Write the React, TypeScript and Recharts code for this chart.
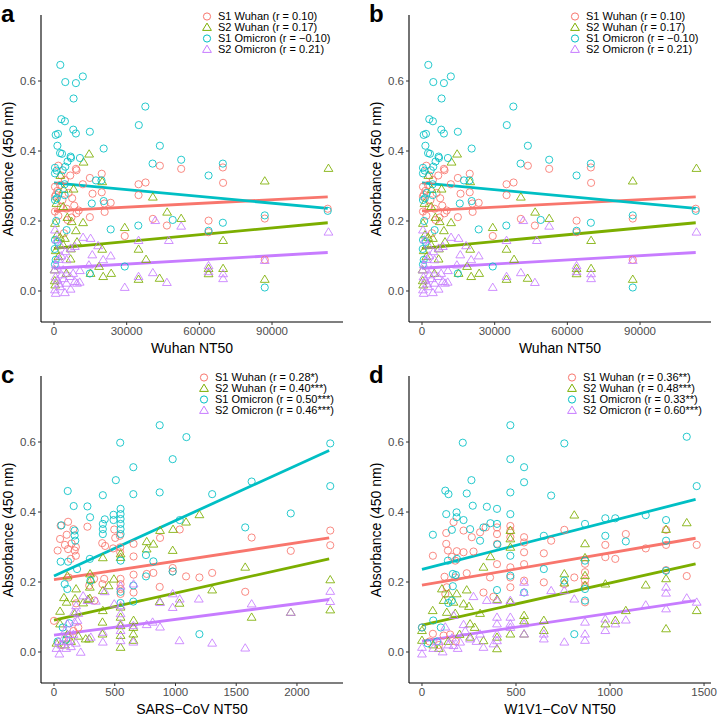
import React from 'react';
import { ScatterChart, Scatter, XAxis, YAxis, ReferenceLine } from 'recharts';

type Pt = [number, number];

const seriesNames = ['S1 Wuhan', 'S2 Wuhan', 'S1 Omicron', 'S2 Omicron'];
const seriesColors = ['#F8766D', '#7CAE00', '#00BFC4', '#C77CFF'];
const seriesShapes = ['circle', 'triangle', 'circle', 'triangle'];

const absDomain = [-0.0886, 0.7886];
const absTicks = [0, 0.2, 0.4, 0.6];
const wuhanTicks = [0, 30000, 60000, 90000];
const sarsTicks = [0, 500, 1000, 1500, 2000];
const w1v1Ticks = [0, 500, 1000, 1500];

const rWuhan = ['0.10', '0.17', '\u22120.10', '0.21'];
const rSars = ['0.28*', '0.40***', '0.50***', '0.46***'];
const rW1v1 = ['0.36**', '0.48***', '0.33**', '0.60***'];

// Wuhan NT50 (panels a and b)
const wuhanS1Wuhan: Pt[] = [
  [1780, 0.358], [9040, 0.349], [9300, 0.345], [11900, 0.305], [14800, 0.323], [19700, 0.335], [15900, 0.278],
  [19700, 0.282], [20800, 0.25], [23400, 0.252], [14800, 0.211], [20900, 0.226], [34900, 0.305], [37800, 0.31],
  [34900, 0.274], [43700, 0.358], [52500, 0.349], [69700, 0.353], [69800, 0.309], [40800, 0.206], [46600, 0.187],
  [63800, 0.201], [63800, 0.168], [87000, 0.207], [87000, 0.089], [113000, 0.235], [29200, 0.157], [400, 0.227],
  [1400, 0.286], [800, 0.275], [2500, 0.303], [4500, 0.317], [6700, 0.33], [7500, 0.265], [8350, 0.244],
  [9300, 0.222], [5600, 0.203], [4100, 0.165], [400, 0.27], [400, 0.298], [2800, 0.24], [3500, 0.26],
  [5200, 0.235], [1800, 0.215], [6000, 0.28], [3000, 0.33], [7200, 0.21], [10200, 0.23],
];
const wuhanS2Wuhan: Pt[] = [
  [14500, 0.391], [12200, 0.368], [113300, 0.35], [87000, 0.314], [19900, 0.312], [40800, 0.268], [8080, 0.291],
  [46700, 0.225], [52500, 0.207], [29200, 0.181], [69800, 0.144], [34900, 0.119], [19900, 0.119], [38000, 0.09],
  [69800, 0.064], [63800, 0.064], [63800, 0.049], [87000, 0.033], [34900, 0.033], [43600, 0.036], [23600, 0.05],
  [15100, 0.05], [20300, 0.041], [18600, 0.07], [400, 0.193], [1200, 0.16], [3800, 0.241], [5500, 0.21],
  [7300, 0.198], [9040, 0.172], [12000, 0.195], [6850, 0.091], [3800, 0.131], [700, 0.115], [300, 0.029],
  [500, 0.017], [2500, 0.153], [4500, 0.15], [1800, 0.098], [5100, 0.05], [2600, 0.33], [4000, 0.29],
  [1000, 0.25], [9500, 0.14], [7000, 0.12], [200, 0.06],
];
const wuhanS1Omicron: Pt[] = [
  [2600, 0.646], [4660, 0.597], [9040, 0.594], [11900, 0.613], [8080, 0.55], [3000, 0.491], [4500, 0.485],
  [700, 0.446], [1640, 0.449], [7950, 0.461], [9040, 0.45], [14800, 0.455], [1400, 0.415], [2500, 0.394],
  [3300, 0.392], [6850, 0.384], [10700, 0.38], [20500, 0.407], [400, 0.352], [1100, 0.344], [4660, 0.355],
  [400, 0.336], [400, 0.26], [4400, 0.274], [17300, 0.316], [19600, 0.316], [15600, 0.25], [20500, 0.257],
  [23400, 0.176], [35000, 0.474], [37700, 0.527], [43700, 0.415], [40700, 0.364], [52500, 0.375], [63800, 0.33],
  [69700, 0.364], [34800, 0.187], [49000, 0.203], [63800, 0.172], [69700, 0.195], [87000, 0.216], [113000, 0.229],
  [29200, 0.07], [14800, 0.05], [87000, 0.01], [400, 0.146], [700, 0.089], [400, 0.076], [5200, 0.174],
  [2000, 0.28], [1200, 0.265], [3600, 0.345], [5600, 0.37], [4400, 0.305], [900, 0.2], [300, 0.12],
  [1500, 0.14], [7000, 0.38],
];
const wuhanS2Omicron: Pt[] = [
  [113300, 0.168], [41800, 0.201], [52500, 0.185], [47400, 0.144], [34900, 0.144], [12000, 0.153], [15100, 0.15],
  [18200, 0.129], [15800, 0.103], [20300, 0.089], [23400, 0.1], [34900, 0.041], [40800, 0.052], [46600, 0.024],
  [29200, 0.01], [63800, 0.072], [63800, 0.055], [69800, 0.049], [69800, 0.035], [87000, 0.087], [14400, 0.074],
  [10700, 0.058], [400, 0.174], [1100, 0.146], [2500, 0.131], [4700, 0.112], [6850, 0.122], [8600, 0.127],
  [3800, 0.06], [5200, 0.089], [6600, 0.041], [400, 0.003], [700, -0.007], [2500, 0.012], [4500, -0.005],
  [6850, 0.005], [8600, 0.027], [9500, 0.022], [1400, 0.031], [3100, 0.046], [300, 0.06], [800, 0.074],
  [5200, 0.022], [2200, 0.02], [7900, 0.05], [10600, 0.025], [1800, 0.09], [3000, 0.1], [600, 0.04], [4000, 0.035],
];

// SARS-CoV NT50 (panel c)
const sarsS1Wuhan: Pt[] = [
  [116, 0.372], [55, 0.361], [160, 0.351], [275, 0.358], [105, 0.335], [50, 0.323], [180, 0.3], [116, 0.294],
  [180, 0.275], [138, 0.266], [90, 0.306], [496, 0.35], [542, 0.332], [397, 0.311], [421, 0.303], [504, 0.326],
  [545, 0.299], [545, 0.285], [487, 0.296], [655, 0.309], [655, 0.273], [873, 0.326], [1035, 0.35], [977, 0.24],
  [977, 0.23], [870, 0.186], [1087, 0.216], [655, 0.221], [548, 0.209], [548, 0.194], [548, 0.18], [548, 0.166],
  [655, 0.17], [413, 0.209], [399, 0.194], [330, 0.209], [333, 0.147], [121, 0.213], [763, 0.223], [818, 0.226],
  [0, 0.089], [182, 0.139], [2274, 0.347], [2274, 0.305], [1627, 0.327], [1949, 0.289], [1197, 0.213],
  [1302, 0.226], [1574, 0.172], [160, 0.06], [200, 0.07], [60, 0.02], [120, 0.04], [170, 0.29], [145, 0.31],
  [290, 0.19], [30, 0.29],
];
const sarsS2Wuhan: Pt[] = [
  [980, 0.35], [1087, 0.371], [873, 0.347], [763, 0.315], [818, 0.308], [763, 0.294], [977, 0.29], [402, 0.269],
  [548, 0.27], [548, 0.28], [297, 0.223], [303, 0.206], [110, 0.217], [402, 0.175], [493, 0.208], [449, 0.189],
  [295, 0.185], [182, 0.18], [82, 0.155], [104, 0.142], [173, 0.152], [50, 0.116], [295, 0.153], [870, 0.144],
  [1033, 0.139], [402, 0.118], [655, 0.09], [548, 0.128], [548, 0.099], [548, 0.075], [548, 0.047], [548, 0.013],
  [653, 0.07], [653, 0.051], [653, 0.033], [399, 0.085], [399, 0.051], [289, 0.037], [261, 0.037], [171, 0.109],
  [50, 0.08], [1197, 0.392], [1574, 0.242], [1302, 0.177], [2274, 0.206], [2274, 0.12], [1627, 0.099],
  [1949, 0.113], [20, 0.025], [90, 0.02], [140, 0.03], [110, 0.05], [200, 0.045], [240, 0.14], [280, 0.15],
];
const sarsS1Omicron: Pt[] = [
  [870, 0.648], [545, 0.598], [1090, 0.614], [977, 0.551], [653, 0.528], [509, 0.491], [113, 0.46], [402, 0.448],
  [653, 0.451], [870, 0.456], [162, 0.417], [275, 0.416], [297, 0.385], [418, 0.379], [402, 0.366], [402, 0.351],
  [402, 0.337], [548, 0.409], [548, 0.394], [548, 0.38], [548, 0.366], [548, 0.351], [548, 0.337], [490, 0.377],
  [490, 0.392], [61, 0.362], [170, 0.347], [170, 0.333], [175, 0.318], [55, 0.258], [116, 0.258], [295, 0.266],
  [190, 0.237], [548, 0.261], [757, 0.277], [818, 0.259], [757, 0.216], [977, 0.23], [88, 0.194], [653, 0.144],
  [300, 0.204], [2274, 0.596], [2274, 0.474], [1627, 0.487], [1302, 0.451], [1949, 0.396], [1574, 0.356],
  [1197, 0.051], [1035, 0.377], [127, 0.082], [72, 0.07], [548, 0.172], [548, 0.14], [110, 0.18], [653, 0.19],
  [30, 0.03], [100, 0.035],
];
const sarsS2Omicron: Pt[] = [
  [548, 0.188], [655, 0.194], [418, 0.172], [275, 0.147], [344, 0.145], [182, 0.132], [165, 0.113], [496, 0.137],
  [873, 0.141], [1035, 0.151], [977, 0.127], [977, 0.166], [548, 0.132], [548, 0.109], [548, 0.08], [548, 0.061],
  [548, 0.032], [763, 0.078], [812, 0.085], [873, 0.071], [653, 0.075], [653, 0.028], [402, 0.056], [402, 0.028],
  [1033, 0.032], [193, 0.09], [110, 0.08], [303, 0.042], [220, -0.001], [44, -0.006], [1192, 0.151], [1627, 0.137],
  [2274, 0.173], [2274, 0.144], [1949, 0.113], [1302, 0.025], [1574, 0.011], [20, 0.01], [40, 0.03], [60, 0.02],
  [80, 0.04], [100, 0.01], [120, 0.03], [140, 0.015], [160, 0.05], [180, 0.025], [90, 0.06], [130, 0.05],
  [170, 0.085], [200, 0.11], [240, 0.16],
];

// W1V1-CoV NT50 (panel d)
const w1v1S1Wuhan: Pt[] = [
  [129, 0.34], [168, 0.371], [221, 0.347], [129, 0.309], [138, 0.29], [185, 0.288], [221, 0.285], [274, 0.287],
  [58, 0.275], [159, 0.272], [177, 0.261], [309, 0.342], [339, 0.356], [399, 0.356], [399, 0.337], [399, 0.309],
  [470, 0.347], [470, 0.328], [470, 0.242], [470, 0.213], [470, 0.185], [543, 0.328], [543, 0.313], [543, 0.285],
  [543, 0.251], [648, 0.282], [687, 0.318], [265, 0.328], [399, 0.251], [362, 0.213], [120, 0.215], [177, 0.213],
  [238, 0.225], [132, 0.185], [327, 0.17], [380, 0.158], [543, 0.204], [648, 0.199], [124, 0.166], [58, 0.052],
  [115, 0.047], [757, 0.349], [1084, 0.337], [975, 0.306], [1461, 0.306], [1298, 0.306], [1298, 0.349],
  [1190, 0.296], [975, 0.271], [1028, 0.266], [867, 0.252], [867, 0.228], [867, 0.204], [867, 0.19], [867, 0.142],
  [810, 0.213], [757, 0.194], [1298, 0.234], [1408, 0.217], [0, 0.07], [40, 0.03], [90, 0.02], [150, 0.05],
  [180, 0.03], [470, 0.36],
];
const w1v1S2Wuhan: Pt[] = [
  [470, 0.347], [470, 0.323], [470, 0.299], [364, 0.272], [327, 0.242], [238, 0.177], [106, 0.18], [141, 0.166],
  [185, 0.166], [115, 0.147], [168, 0.142], [221, 0.137], [57, 0.118], [132, 0.113], [177, 0.11], [309, 0.11],
  [470, 0.142], [543, 0.104], [543, 0.089], [470, 0.051], [543, 0.051], [648, 0.09], [648, 0.061], [256, 0.08],
  [256, 0.042], [327, 0.032], [399, 0.042], [399, 0.009], [0, 0.061], [0, 0.033], [810, 0.391], [1408, 0.369],
  [1298, 0.35], [867, 0.309], [867, 0.269], [867, 0.218], [867, 0.19], [757, 0.223], [757, 0.197], [975, 0.194],
  [1190, 0.191], [1298, 0.209], [1461, 0.118], [1298, 0.066], [1084, 0.118], [1028, 0.09], [975, 0.08],
  [60, 0.02], [90, 0.01], [140, 0.03], [200, 0.05], [400, 0.15], [250, 0.13], [280, 0.07],
];
const w1v1S1Omicron: Pt[] = [
  [470, 0.648], [217, 0.598], [470, 0.551], [543, 0.528], [543, 0.485], [263, 0.491], [124, 0.461], [141, 0.451],
  [238, 0.453], [470, 0.456], [687, 0.447], [270, 0.418], [345, 0.415], [399, 0.409], [129, 0.394], [184, 0.399],
  [184, 0.385], [221, 0.377], [470, 0.394], [159, 0.349], [256, 0.351], [327, 0.356], [364, 0.368], [399, 0.366],
  [309, 0.318], [58, 0.335], [401, 0.307], [470, 0.275], [648, 0.332], [138, 0.261], [186, 0.266], [164, 0.223],
  [164, 0.188], [399, 0.177], [470, 0.218], [543, 0.17], [648, 0.237], [159, 0.147], [0, 0.07], [757, 0.596],
  [1408, 0.615], [1461, 0.474], [867, 0.366], [975, 0.382], [1028, 0.382], [1190, 0.391], [1298, 0.377],
  [975, 0.332], [1084, 0.316], [1298, 0.318], [867, 0.261], [867, 0.18], [867, 0.147], [757, 0.204],
  [1298, 0.232], [810, 0.051], [60, 0.09], [100, 0.07], [30, 0.025], [80, 0.03], [140, 0.14], [180, 0.22],
];
const w1v1S2Omicron: Pt[] = [
  [543, 0.199], [470, 0.147], [399, 0.147], [345, 0.147], [274, 0.158], [221, 0.078], [168, 0.104], [124, 0.071],
  [399, 0.099], [399, 0.08], [399, 0.051], [399, 0.032], [470, 0.099], [470, 0.08], [543, 0.08], [543, 0.051],
  [309, 0.051], [256, 0.037], [203, 0.028], [168, 0.018], [380, 0.023], [327, 0.013], [0, 0.013], [0, -0.006],
  [648, 0.051], [648, 0.037], [687, 0.175], [810, 0.151], [757, 0.175], [1190, 0.134], [1298, 0.185],
  [1298, 0.168], [1298, 0.123], [1408, 0.154], [1461, 0.142], [1084, 0.091], [1028, 0.08], [975, 0.094],
  [975, 0.061], [867, 0.085], [867, 0.051], [867, 0.033], [757, 0.028], [60, 0.01], [90, 0.03], [110, 0.0],
  [140, 0.02], [160, 0.04], [190, 0.01], [230, 0.06], [290, 0.03], [470, 0.07], [543, 0.17],
];

// fitted lines: [x0, y0, x1, y1]
const wuhanFits = [
  [0, 0.229, 113000, 0.269],
  [0, 0.122, 113000, 0.195],
  [0, 0.309, 113000, 0.236],
  [0, 0.065, 113000, 0.11],
];
const sarsFits = [
  [0, 0.207, 2265, 0.326],
  [0, 0.091, 2265, 0.266],
  [0, 0.217, 2265, 0.576],
  [0, 0.048, 2265, 0.15],
];
const w1v1Fits = [
  [0, 0.191, 1455, 0.325],
  [0, 0.077, 1455, 0.252],
  [0, 0.236, 1455, 0.436],
  [0, 0.031, 1455, 0.147],
];

const font = '"Liberation Sans", Arial, Helvetica, sans-serif';

const makeShape = (kind: string, color: string) => (p: any) => {
  const { cx, cy } = p;
  if (cx == null || cy == null) return <g />;
  if (kind === 'circle') {
    return <circle cx={cx} cy={cy} r={3.6} fill="none" stroke={color} strokeWidth={1} strokeOpacity={0.85} />;
  }
  return (
    <polygon
      points={`${cx},${cy - 4.4} ${cx - 4.4},${cy + 2.9} ${cx + 4.4},${cy + 2.9}`}
      fill="none"
      stroke={color}
      strokeWidth={1}
      strokeOpacity={0.85}
    />
  );
};

const LegendIcon = ({ kind, color }: { kind: string; color: string }) => (
  <svg width={12} height={11} style={{ display: 'block', flex: 'none' }}>
    {kind === 'circle' ? (
      <circle cx={6} cy={5.5} r={3.6} fill="none" stroke={color} strokeWidth={1} />
    ) : (
      <polygon points="6,1.1 1.6,8.4 10.4,8.4" fill="none" stroke={color} strokeWidth={1} />
    )}
  </svg>
);

type PanelProps = {
  letter: string;
  left: number;
  top: number;
  xTitle: string;
  xDomain: number[];
  xTicks: number[];
  series: Pt[][];
  fits: number[][];
  rValues: string[];
  legendLeft: number;
};

const Panel = (props: PanelProps) => {
  const { letter, left, top, xTitle, xDomain, xTicks, series, fits, rValues, legendLeft } = props;
  return (
    <div style={{ position: 'absolute', left, top, width: 360, height: 355, fontFamily: font }}>
      <ScatterChart width={360} height={355} margin={{ top: 15, right: 17, bottom: 0, left: 0 }}>
        <XAxis
          type="number"
          dataKey="x"
          domain={xDomain}
          ticks={xTicks}
          allowDataOverflow
          interval={0}
          height={33}
          tickSize={3}
          tick={{ fill: '#4D4D4D', fontSize: 11.5, fontFamily: font }}
          tickLine={{ stroke: '#333' }}
          axisLine={{ stroke: '#000', strokeWidth: 1.1 }}
        />
        <YAxis
          type="number"
          dataKey="y"
          domain={absDomain}
          ticks={absTicks}
          allowDataOverflow
          interval={0}
          width={41}
          tickSize={3}
          tickFormatter={(v: number) => v.toFixed(1)}
          tick={{ fill: '#4D4D4D', fontSize: 11.5, fontFamily: font }}
          tickLine={{ stroke: '#333' }}
          axisLine={{ stroke: '#000', strokeWidth: 1.1 }}
        />
        {series.map((pts, i) => (
          <Scatter
            key={seriesNames[i]}
            name={seriesNames[i]}
            data={pts.map(([x, y]) => ({ x, y }))}
            shape={makeShape(seriesShapes[i], seriesColors[i])}
            isAnimationActive={false}
          />
        ))}
        {fits.map((f, i) => (
          <ReferenceLine
            key={'fit' + i}
            segment={[{ x: f[0], y: f[1] }, { x: f[2], y: f[3] }]}
            stroke={seriesColors[i]}
            strokeWidth={2.8}
          />
        ))}
      </ScatterChart>

      <div
        style={{
          position: 'absolute',
          left: 1,
          top: 0,
          fontSize: 24,
          fontWeight: 'bold',
          lineHeight: 'normal',
          color: '#000',
        }}
      >
        {letter}
      </div>

      <div
        style={{
          position: 'absolute',
          left: 8,
          top: 168.5,
          transform: 'translate(-50%, -50%) rotate(-90deg)',
          whiteSpace: 'nowrap',
          fontSize: 14,
          color: '#000',
        }}
      >
        Absorbance (450 nm)
      </div>

      <div
        style={{
          position: 'absolute',
          left: 192,
          top: 348,
          transform: 'translate(-50%, -50%)',
          whiteSpace: 'nowrap',
          fontSize: 14,
          color: '#000',
        }}
      >
        {xTitle}
      </div>

      <div style={{ position: 'absolute', left: legendLeft, top: 10.5 }}>
        {seriesNames.map((name, i) => (
          <div key={name} style={{ display: 'flex', alignItems: 'center', height: 11.1 }}>
            <LegendIcon kind={seriesShapes[i]} color={seriesColors[i]} />
            <span style={{ marginLeft: 5, fontSize: 11, lineHeight: '11px', whiteSpace: 'nowrap', color: '#000' }}>
              {`${name} (r = ${rValues[i]})`}
            </span>
          </div>
        ))}
      </div>
    </div>
  );
};

const wuhanSeries = [wuhanS1Wuhan, wuhanS2Wuhan, wuhanS1Omicron, wuhanS2Omicron];
const sarsSeries = [sarsS1Wuhan, sarsS2Wuhan, sarsS1Omicron, sarsS2Omicron];
const w1v1Series = [w1v1S1Wuhan, w1v1S2Wuhan, w1v1S1Omicron, w1v1S2Omicron];

export default function App() {
  return (
    <div
      style={{
        position: 'absolute',
        left: 0,
        top: 0,
        width: 720,
        height: 716,
        overflow: 'hidden',
        background: '#fff',
      }}
    >
      <Panel
        letter="a"
        left={0}
        top={0}
        xTitle="Wuhan NT50"
        xDomain={[-5370, 119300]}
        xTicks={wuhanTicks}
        series={wuhanSeries}
        fits={wuhanFits}
        rValues={rWuhan}
        legendLeft={201}
      />
      <Panel
        letter="b"
        left={368}
        top={0}
        xTitle="Wuhan NT50"
        xDomain={[-5370, 119300]}
        xTicks={wuhanTicks}
        series={wuhanSeries}
        fits={wuhanFits}
        rValues={rWuhan}
        legendLeft={201}
      />
      <Panel
        letter="c"
        left={0}
        top={361}
        xTitle={'SARS\u2212CoV NT50'}
        xDomain={[-107, 2379]}
        xTicks={sarsTicks}
        series={sarsSeries}
        fits={sarsFits}
        rValues={rSars}
        legendLeft={198}
      />
      <Panel
        letter="d"
        left={368}
        top={361}
        xTitle={'W1V1\u2212CoV NT50'}
        xDomain={[-69, 1537]}
        xTicks={w1v1Ticks}
        series={w1v1Series}
        fits={w1v1Fits}
        rValues={rW1v1}
        legendLeft={198}
      />
    </div>
  );
}
